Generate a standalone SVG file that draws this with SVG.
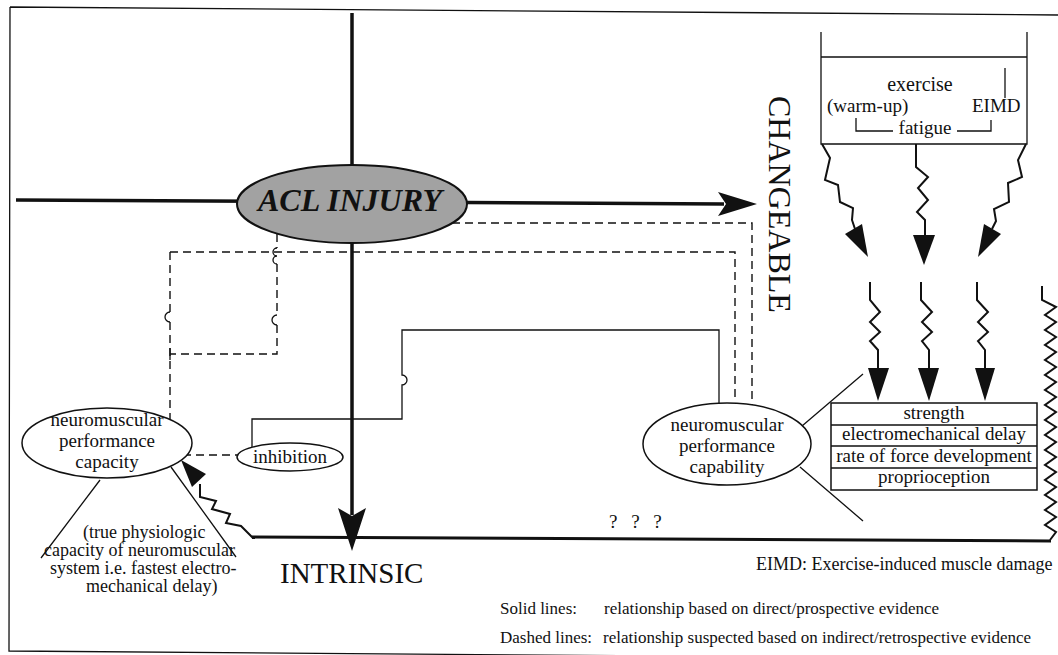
<svg xmlns="http://www.w3.org/2000/svg" width="1058" height="655" viewBox="0 0 1058 655">
<style>
text{font-family:'Liberation Serif','Tinos','Times New Roman','DejaVu Serif','Noto Serif',serif;fill:#111}
.f19{font-size:19px}
.f18{font-size:18px}
.f17{font-size:17px}
.c{text-anchor:middle}
.thin{fill:none;stroke:#111;stroke-width:1.3}
.dash{fill:none;stroke:#111;stroke-width:1.4;stroke-dasharray:8 5}
.axis{fill:none;stroke:#111;stroke-width:3.5}
.wave{fill:none;stroke:#111;stroke-width:2;stroke-linejoin:miter}
.head{fill:#111;stroke:none}
.node{fill:#fff;stroke:#111;stroke-width:1.5}
</style>
<g id="frame" class="thin">
<path d="M10,7 L1058,15 M10,7 L9,651 L1058,659"/>
</g>
<g id="connectors">
<path class="axis" d="M16,200 L724,204"/>
<polygon class="head" points="757,204 718,192 726,204 718,216"/>
<path class="axis" d="M352,13 V515"/>
<polygon class="head" points="352,551 338,508 352,516 366,508"/>
<path class="dash" d="M452,223 H752 V405"/>
<path class="dash" d="M170,252 H735 V401"/>
<path class="dash" d="M170,252 V312"/>
<path class="thin" d="M170,312 A5,5 0 0 0 170,322"/>
<path class="dash" d="M170,322 V419"/>
<path class="thin" d="M170,348 V360"/>
<path class="dash" d="M277,234 V248"/>
<path class="thin" d="M277,248 A4,4 0 0 0 277,256 A4,4 0 0 0 277,264"/>
<path class="dash" d="M277,264 V315"/>
<path class="thin" d="M277,315 A5,5 0 0 0 277,325"/>
<path class="dash" d="M277,325 V354 H170"/>
<path class="dash" d="M183,455 H237"/>
<path class="thin" d="M719,404 V330 H402 V375 A5,5 0 0 1 402,385 V419 H252 V447"/>
<path class="thin" d="M100,480 L41,558 M171,467 L236,557"/>
<path class="thin" d="M802,426 L863,374 M800,467 L863,521"/>
<path class="wave" d="M822,144 L830,158 L825,180 L838,185 L840,202 L853,208 L852,220 L855,229"/>
<polygon class="head" points="868,257 845,234 862,224"/>
<path class="wave" d="M916,144 V167 L928,177 L918,188 L928,200 L917,212 L925,220 V238"/>
<polygon class="head" points="924,265 913,235 935,235"/>
<path class="wave" d="M1026,144 L1018,160 L1022,177 L1008,183 L1009,202 L994,209 L996,221 L992,229"/>
<polygon class="head" points="978,257 1001,234 984,224"/>
<path class="wave" d="M870,282 V300 L880,312 L870,322 L880,332 L870,341 L878,350 V370"/>
<polygon class="head" points="878,401 868,368 889,368"/>
<path class="wave" d="M921,282 V300 L932,312 L922,322 L932,332 L922,341 L929,350 V370"/>
<polygon class="head" points="929,401 918,368 939,368"/>
<path class="wave" d="M977,282 V300 L988,312 L978,322 L988,332 L978,341 L985,350 V370"/>
<polygon class="head" points="985,401 975,368 995,368"/>
<path class="wave" d="M1042,286 V300 L1056,307 L1045,315 L1056,322 L1045,330 L1056,337 L1045,345 L1056,352 L1045,360 L1056,367 L1045,375 L1056,382 L1045,390 L1056,397 L1045,405 L1056,412 L1045,420 L1056,427 L1045,435 L1056,442 L1045,450 L1056,457 L1045,465 L1056,472 L1045,480 L1056,487 L1045,495 L1056,502 L1045,510 L1056,517 L1045,525 L1056,532 L1050,540"/>
<path class="wave" style="stroke-width:3" d="M1051,541 L252,537"/>
<path class="wave" d="M253,538 L241,526 L226,523 L230,514 L212,509 L216,501 L200,497 L200,484"/>
<polygon class="head" points="181,460 206,474 192,487"/>
</g>
<g id="acl-injury">
<ellipse cx="352" cy="204" rx="115" ry="39" fill="#a2a2a2" stroke="#111" stroke-width="2"/>
<text x="350" y="211" class="c" style="font-size:32px;font-weight:bold;font-style:italic">ACL INJURY</text>
</g>
<g id="changeable">
<text transform="translate(769,96) rotate(90)" style="font-size:32px">CHANGEABLE</text>
</g>
<g id="intrinsic">
<text x="280" y="583" style="font-size:29px">INTRINSIC</text>
</g>
<g id="exercise">
<path class="thin" d="M821,32 V144 H1027 V32 M821,57 H1027"/>
<text x="920" y="91" class="c" style="font-size:20px">exercise</text>
<text x="827" y="112" class="f19">(warm-up)</text>
<text x="972" y="112" class="f19">EIMD</text>
<path class="thin" d="M1005,68 V98"/>
<path class="thin" d="M856,118 V131 H893 M957,131 H991 V120"/>
<text x="925" y="134" class="f19 c">fatigue</text>
</g>
<g id="capacity">
<ellipse class="node" cx="107" cy="443" rx="85" ry="35"/>
<text x="107" y="426" class="f19 c">neuromuscular</text>
<text x="107" y="447" class="f19 c">performance</text>
<text x="107" y="468" class="f19 c">capacity</text>
</g>
<g id="capacity-note" class="f18">
<text x="83" y="538">(true physiologic</text>
<text x="44" y="556">capacity of neuromuscular</text>
<text x="50" y="574">system i.e. fastest electro-</text>
<text x="86" y="592">mechanical delay)</text>
</g>
<g id="inhibition">
<ellipse class="node" cx="290" cy="457" rx="53" ry="14"/>
<text x="290" y="463" class="f19 c">inhibition</text>
</g>
<g id="capability">
<ellipse class="node" cx="727" cy="444" rx="84" ry="41"/>
<text x="727" y="431" class="f19 c">neuromuscular</text>
<text x="727" y="452" class="f19 c">performance</text>
<text x="727" y="473" class="f19 c">capability</text>
</g>
<g id="capability-table">
<rect x="831" y="403" width="206" height="87" fill="#fff" stroke="#111" stroke-width="1.5"/>
<path class="thin" d="M831,425 H1037 M831,446 H1037 M831,468 H1037"/>
<text x="934" y="419" class="f19 c">strength</text>
<text x="934" y="440" class="f19 c">electromechanical delay</text>
<text x="934" y="462" class="f19 c">rate of force development</text>
<text x="934" y="483" class="f19 c">proprioception</text>
</g>
<g id="unknown">
<text x="609" y="528" class="f19" word-spacing="9">? ? ?</text>
</g>
<g id="legend">
<text x="756" y="570" class="f18">EIMD: Exercise-induced muscle damage</text>
<text x="500" y="614" class="f17">Solid lines:</text>
<text x="604" y="614" class="f17">relationship based on direct/prospective evidence</text>
<text x="500" y="643" class="f17">Dashed lines:</text>
<text x="603" y="643" class="f17">relationship suspected based on indirect/retrospective evidence</text>
</g>
</svg>
